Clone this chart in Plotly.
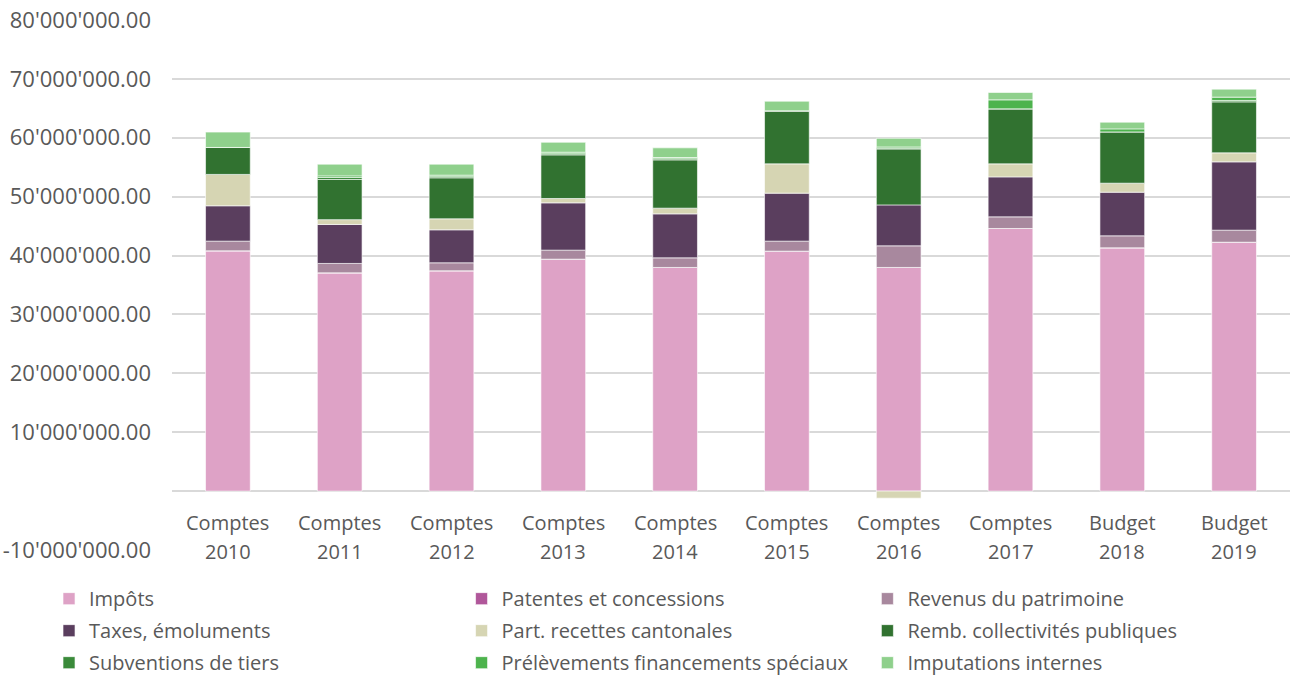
import plotly.graph_objects as go

categories = ["Comptes 2010", "Comptes 2011", "Comptes 2012", "Comptes 2013", "Comptes 2014",
              "Comptes 2015", "Comptes 2016", "Comptes 2017", "Budget 2018", "Budget 2019"]
label_line1 = ["Comptes", "Comptes", "Comptes", "Comptes", "Comptes",
               "Comptes", "Comptes", "Comptes", "Budget", "Budget"]
label_line2 = ["2010", "2011", "2012", "2013", "2014", "2015", "2016", "2017", "2018", "2019"]

impots        = [40.80e6, 37.06e6, 37.41e6, 39.39e6, 37.98e6, 40.75e6, 37.98e6, 44.60e6, 41.31e6, 42.27e6]
patentes      = [0, 0, 0, 0, 0, 0, 0, 0, 0, 0]
revenus       = [1.65e6, 1.60e6, 1.36e6, 1.53e6, 1.63e6, 1.70e6, 3.67e6, 1.97e6, 2.04e6, 2.04e6]
taxes         = [6.00e6, 6.62e6, 5.60e6, 8.03e6, 7.47e6, 8.15e6, 6.95e6, 6.79e6, 7.41e6, 11.60e6]
part_cant     = [5.33e6, 0.82e6, 1.87e6, 0.74e6, 0.97e6, 4.97e6, -1.20e6, 2.21e6, 1.53e6, 1.53e6]
remb          = [4.58e6, 6.82e6, 6.96e6, 7.41e6, 8.20e6, 9.00e6, 9.50e6, 9.34e6, 8.71e6, 8.66e6]
subventions   = [0, 0.34e6, 0.20e6, 0.20e6, 0.20e6, 0, 0.14e6, 0, 0, 0.24e6]
prelevements  = [0, 0.27e6, 0.25e6, 0.25e6, 0.20e6, 0, 0.20e6, 1.53e6, 0.51e6, 0.56e6]
imputations   = [2.60e6, 1.99e6, 1.87e6, 1.69e6, 1.64e6, 1.64e6, 1.47e6, 1.25e6, 1.14e6, 1.36e6]

# (name, values, colour, legend column)
series = [
    ("Impôts", impots, "#DEA2C6", "legend"),
    ("Patentes et concessions", patentes, "#B0579A", "legend2"),
    ("Revenus du patrimoine", revenus, "#A8889E", "legend3"),
    ("Taxes, émoluments", taxes, "#5A3E5E", "legend"),
    ("Part. recettes cantonales", part_cant, "#D6D5B3", "legend2"),
    ("Remb. collectivités publiques", remb, "#317230", "legend3"),
    ("Subventions de tiers", subventions, "#3A8A3A", "legend"),
    ("Prélèvements financements spéciaux", prelevements, "#4DB34D", "legend2"),
    ("Imputations internes", imputations, "#8FD08C", "legend3"),
]

tick_vals = [-10e6, 0, 10e6, 20e6, 30e6, 40e6, 50e6, 60e6, 70e6, 80e6]
tick_text = ["-10'000'000.00", "", "10'000'000.00", "20'000'000.00", "30'000'000.00",
             "40'000'000.00", "50'000'000.00", "60'000'000.00", "70'000'000.00", "80'000'000.00"]

FONT = "Open Sans"
GREY = "#595959"

fig = go.Figure()
for i, (name, vals, color, leg) in enumerate(series):
    fig.add_trace(go.Bar(
        name=name, x=categories, y=vals, legend=leg, legendgroup=f"g{i}",
        marker=dict(color=color, line=dict(color="rgba(255,255,255,0.6)", width=1)),
    ))

for c, l1, l2 in zip(categories, label_line1, label_line2):
    fig.add_annotation(x=c, y=0, xref="x", yref="y", text=l1, showarrow=False,
                       yanchor="middle", yshift=-31, font=dict(family=FONT, size=20, color=GREY))
    fig.add_annotation(x=c, y=0, xref="x", yref="y", text=l2, showarrow=False,
                       yanchor="middle", yshift=-60, font=dict(family=FONT, size=20, color=GREY))

leg_common = dict(orientation="v", yanchor="top", y=-0.055, xanchor="left",
                  font=dict(family=FONT, size=20, color=GREY), tracegroupgap=3,
                  bgcolor="rgba(0,0,0,0)")

fig.update_layout(
    width=1291, height=677,
    barmode="relative", bargap=0.6,
    plot_bgcolor="white", paper_bgcolor="white",
    margin=dict(l=172, r=1, t=20, b=127, autoexpand=False),
    font=dict(family=FONT, size=20, color=GREY),
    xaxis=dict(showticklabels=False, showgrid=False, showline=True, linecolor="white",
               linewidth=3, ticks=""),
    yaxis=dict(range=[-10e6, 80e6], tickvals=tick_vals, ticktext=tick_text,
               showgrid=True, gridcolor="#D9D9D9", gridwidth=2,
               zeroline=True, zerolinecolor="#D9D9D9", zerolinewidth=2,
               ticks="", ticklabelstandoff=20, tickfont=dict(family=FONT, size=22, color=GREY)),
    legend=dict(x=-0.11, **leg_common),
    legend2=dict(x=0.259, **leg_common),
    legend3=dict(x=0.622, **leg_common),
)

fig.write_html("out.html")
